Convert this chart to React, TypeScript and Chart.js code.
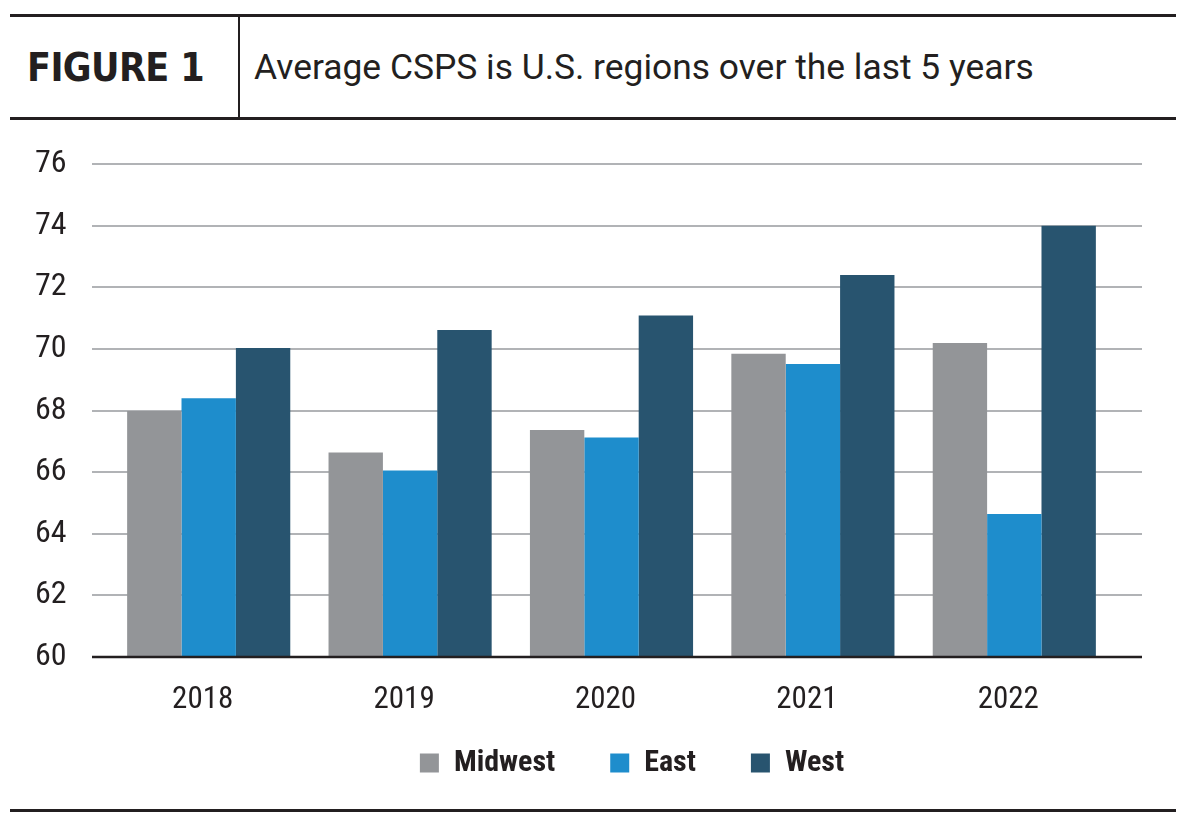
import React, { useEffect, useRef } from "react";
import { Chart, registerables } from "chart.js";

Chart.register(...registerables);

// ---- data ----
const years = ["2018", "2019", "2020", "2021", "2022"];
const midwest = [67.98, 66.64, 67.37, 69.84, 70.19];
const east = [68.4, 66.05, 67.12, 69.51, 64.64];
const west = [70.03, 70.61, 71.08, 72.4, 74.0];
const yTicks = [60, 62, 64, 66, 68, 70, 72, 74, 76];

const seriesNames = ["Midwest", "East", "West"];
const seriesColors = ["#939598", "#1e8dcc", "#28546f"];

const figureLabel = "FIGURE 1";
const titleText = "Average CSPS is U.S. regions over the last 5 years";

const INK = "#231f20";
const NARROW = "'Liberation Sans Narrow', 'Arial Narrow', 'Roboto Condensed', sans-serif";

// horizontal grid lines run a little past the plotting area on both sides
const GRID_EXT_LEFT = 16;
const GRID_EXT_RIGHT = 27;
// legend row offset from its default slot
const LEGEND_SHIFT_X = 57;
const LEGEND_SHIFT_Y = -24;

const gridPlugin = {
  id: "extendedGrid",
  beforeDatasetsDraw(chart: any) {
    const { ctx, chartArea, scales } = chart;
    const y = scales.y;
    ctx.save();
    ctx.strokeStyle = "#b1b3b6";
    ctx.lineWidth = 2;
    y.ticks.forEach((t: any) => {
      if (t.value === y.min) return;
      const py = Math.round(y.getPixelForValue(t.value));
      ctx.beginPath();
      ctx.moveTo(chartArea.left - GRID_EXT_LEFT, py);
      ctx.lineTo(chartArea.right + GRID_EXT_RIGHT, py);
      ctx.stroke();
    });
    ctx.restore();
  },
  afterDatasetsDraw(chart: any) {
    const { ctx, chartArea, scales } = chart;
    const y = scales.y;
    const py = y.getPixelForValue(y.min);
    ctx.save();
    ctx.strokeStyle = INK;
    ctx.lineWidth = 2.5;
    ctx.beginPath();
    ctx.moveTo(chartArea.left - GRID_EXT_LEFT, py);
    ctx.lineTo(chartArea.right + GRID_EXT_RIGHT, py);
    ctx.stroke();
    ctx.restore();
  },
};

const legendShiftPlugin = {
  id: "legendShift",
  afterLayout(chart: any) {
    const l = chart.legend;
    if (l) {
      l.left += LEGEND_SHIFT_X;
      l.right += LEGEND_SHIFT_X;
      l.top += LEGEND_SHIFT_Y;
      l.bottom += LEGEND_SHIFT_Y;
    }
  },
};

function BarChart() {
  const ref = useRef<HTMLCanvasElement | null>(null);
  useEffect(() => {
    if (!ref.current) return;
    const data = [midwest, east, west];
    const chart = new Chart(ref.current, {
      type: "bar",
      data: {
        labels: years,
        datasets: seriesNames.map((name, i) => ({
          label: name,
          data: data[i],
          backgroundColor: seriesColors[i],
          borderWidth: 0,
          categoryPercentage: 0.81,
          barPercentage: 1,
        })),
      },
      options: {
        responsive: false,
        animation: false,
        layout: { padding: { top: 34, right: 85, left: 35, bottom: 10 } },
        plugins: {
          tooltip: { enabled: false },
          legend: {
            position: "bottom",
            labels: {
              boxWidth: 19,
              boxHeight: 19,
              padding: 55,
              color: INK,
              font: { family: NARROW, size: 30, weight: "bold" },
            },
          },
        },
        scales: {
          x: {
            grid: { display: false, drawTicks: false },
            border: { display: false },
            ticks: {
              color: INK,
              padding: 25,
              labelOffset: -6,
              font: { family: NARROW, size: 31 },
            },
            afterFit(scale: any) {
              scale.height = 60;
            },
          },
          y: {
            min: yTicks[0],
            max: yTicks[yTicks.length - 1],
            afterBuildTicks(scale: any) {
              scale.ticks = yTicks.map((v) => ({ value: v }));
            },
            grid: { display: false, drawTicks: false },
            border: { display: false },
            ticks: {
              color: INK,
              padding: 0,
              crossAlign: "far",
              font: { family: NARROW, size: 32 },
            },
            afterFit(scale: any) {
              scale.width = 73;
            },
          },
        },
      },
      plugins: [gridPlugin, legendShiftPlugin],
    });
    return () => chart.destroy();
  }, []);
  return (
    <canvas
      ref={ref}
      width={1200}
      height={692}
      style={{ position: "absolute", left: 0, top: 130, width: 1200, height: 692 }}
    />
  );
}

export default function App() {
  const rule = (top: number): React.CSSProperties => ({
    position: "absolute",
    left: 10,
    width: 1166,
    top,
    height: 3,
    background: INK,
  });
  return (
    <div
      style={{
        position: "fixed",
        left: 0,
        top: 0,
        width: 1200,
        height: 822,
        background: "#ffffff",
        overflow: "hidden",
      }}
    >
      <div style={rule(14)} />
      <div style={rule(117)} />
      <div
        style={{
          position: "absolute",
          left: 238,
          top: 17,
          width: 2,
          height: 100,
          background: INK,
        }}
      />
      <div
        style={{
          position: "absolute",
          left: 27,
          top: 17,
          height: 100,
          display: "flex",
          alignItems: "center",
          fontFamily: "'DejaVu Sans Condensed', 'DejaVu Sans', sans-serif",
          fontStretch: "condensed",
          fontWeight: 700,
          fontSize: 39,
          letterSpacing: -0.6,
          color: INK,
          whiteSpace: "nowrap",
        }}
      >
        {figureLabel}
      </div>
      <div
        style={{
          position: "absolute",
          left: 254,
          top: 17,
          height: 100,
          display: "flex",
          alignItems: "center",
          fontFamily: "Roboto, sans-serif",
          fontSize: 35.4,
          color: INK,
          whiteSpace: "nowrap",
        }}
      >
        {titleText}
      </div>
      <BarChart />
      <div style={rule(809)} />
    </div>
  );
}
